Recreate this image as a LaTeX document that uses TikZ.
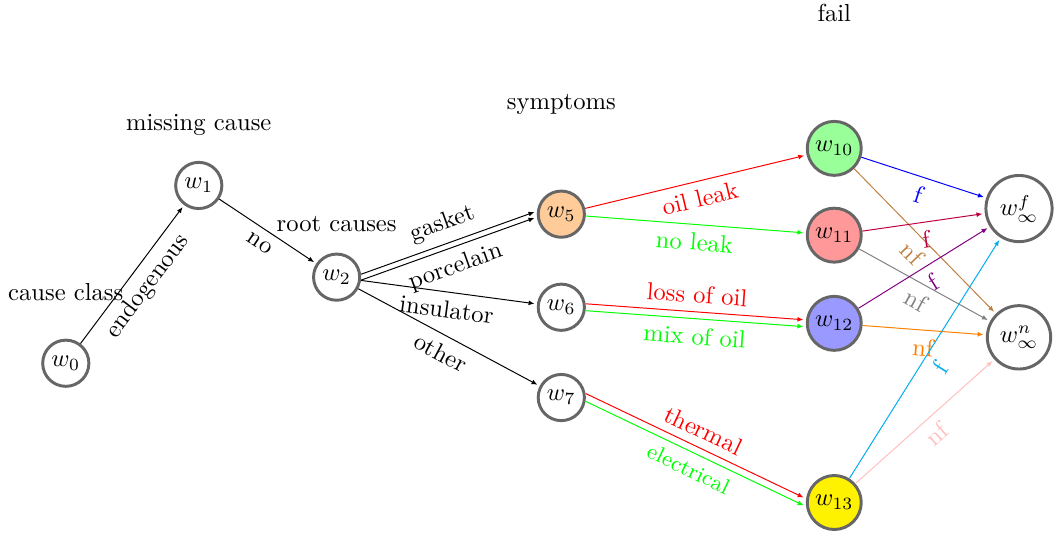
\documentclass[tikz,border=0pt]{standalone}
\usepackage{amsmath}
\usetikzlibrary{automata, positioning, arrows.meta}

\begin{document}
\begin{tikzpicture}[shorten >=1pt, >={Latex[length=2.4pt, width=2pt]}, on grid, auto,
    every state/.append style={draw=black!60, very thick, minimum size=0.66cm, inner sep=2pt}]
    \useasboundingbox (0,0) rectangle (15.16,7.7);

    \node[state] (0) at (0.94,2.51) {$w_0$};
    \node[state] (1) [above right=2.54cm and 1.9cm of 0] {$w_1$};
    \node[state] (2) [below right=1.31cm and 1.97cm of 1] {$w_2$};
    \node[state, fill=orange!40] (5) [above right=0.9cm and 3.21cm of 2] {$w_5$};
    \node[state] (6) [below=1.33cm of 5] {$w_6$};
    \node[state] (7) [below=1.29cm of 6] {$w_7$};
    \node[state, fill=green!40] (10) [above right=0.94cm and 3.9cm of 5] {$w_{10}$};
    \node[state, fill=red!40] (11) [below=1.24cm of 10] {$w_{11}$};
    \node[state, fill=blue!40] (12) [below=1.26cm of 11] {$w_{12}$};
    \node[state, fill=yellow] (13) [below=2.56cm of 12] {$w_{13}$};
    \node[state, inner sep=2.8pt] (f) [below right=0.86cm and 2.64cm of 10] {$w_\infty^f$};
    \node[state, inner sep=2.8pt] (n) [below=1.84cm of f] {$w_\infty^n$};

    % layer titles
    \node (class) [above=1.01cm of 0] {cause class};
    \node (missing) [above=0.86cm of 1] {missing cause};
    \node (root) [above=0.76cm of 2] {root causes};
    \node (symptoms) [above=1.57cm of 5] {symptoms};
    \node (fail) [above=1.94cm of 10] {fail};

    \path[->]
    (0) edge node[sloped, below] {endogenous} (1)
    (1) edge node[sloped, below] {no} (2)
    ([yshift=1.2pt]2.east) edge node[sloped, above] {gasket} ([yshift=1.2pt]5.west)
    ([yshift=-1.2pt]2.east) edge node[sloped, below] {porcelain} ([yshift=-1.2pt]5.west)
    (2) edge node[sloped, below] {insulator} (6)
    (2) edge node[sloped, below] {other} (7)
    (5) edge[red] node[sloped, below] {oil leak} (10)
    (5) edge[green] node[sloped, below] {no leak} (11)
    ([yshift=1.4pt]6.east) edge[red] node[sloped, above] {loss of oil} ([yshift=1.4pt]12.west)
    ([yshift=-1.4pt]6.east) edge[green] node[sloped, below] {mix of oil} ([yshift=-1.4pt]12.west)
    ([yshift=1.6pt]7.east) edge[red] node[sloped, above] {thermal} ([yshift=1.6pt]13.west)
    ([yshift=-1.6pt]7.east) edge[green] node[sloped, below, font=\small] {electrical} ([yshift=-1.6pt]13.west)
    (10) edge[blue] node[sloped, below] {f} (f)
    (10) edge[brown] node[sloped, below] {nf} (n)
    (11) edge[purple] node[sloped, below] {f} (f)
    (11) edge[gray] node[sloped, below] {nf} (n)
    (12) edge[violet] node[sloped, below] {f} (f)
    (12) edge[orange] node[sloped, below] {nf} (n)
    (13) edge[cyan] node[sloped, below] {f} (f)
    (13) edge[pink] node[sloped, below] {nf} (n);
\end{tikzpicture}
\end{document}
